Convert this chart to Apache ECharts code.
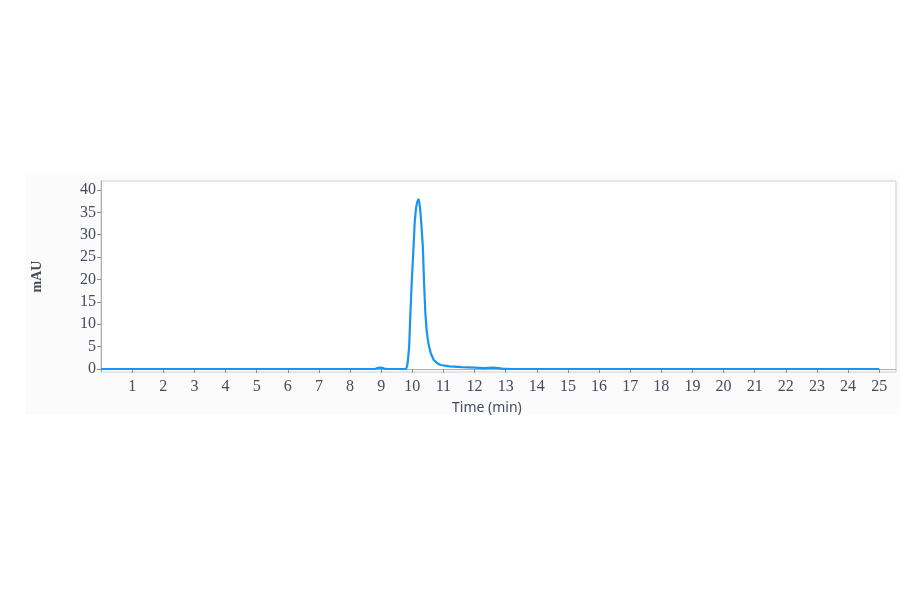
<!DOCTYPE html>
<html>
<head>
<meta charset="utf-8">
<script src="https://cdn.jsdelivr.net/npm/echarts@6/dist/echarts.min.js"></script>
<style>
  html, body { margin: 0; padding: 0; background: #fff; }
  #chart { width: 900px; height: 594px; }
</style>
</head>
<body>
<div id="chart"></div>
<script>
// chromatogram trace: time (min) and absorbance (mAU)
var times = [0, 8.8, 8.9, 9.0, 9.1, 9.2, 9.8, 9.84, 9.86, 9.9, 9.94, 9.98, 10.04, 10.08,
  10.12, 10.16, 10.2, 10.23, 10.26, 10.29, 10.34, 10.38, 10.42, 10.46, 10.5, 10.54, 10.6,
  10.69, 10.8, 10.91, 11.2, 11.6, 12.0, 12.3, 12.6, 12.9, 13.2, 25];
var mau = [0, 0, 0.25, 0.3, 0.1, 0, 0, 0.8, 2, 5, 12.5, 19, 27.3, 33,
  36, 37.3, 38, 37, 35.2, 32.5, 27.3, 19, 12.5, 8.8, 6.5, 5, 3.4,
  2, 1.3, 0.9, 0.6, 0.4, 0.3, 0.2, 0.3, 0.1, 0, 0];
var xTicks = [1, 2, 3, 4, 5, 6, 7, 8, 9, 10, 11, 12, 13, 14, 15, 16, 17, 18, 19, 20, 21, 22, 23, 24, 25];
var yTicks = [0, 5, 10, 15, 20, 25, 30, 35, 40];

var points = times.map(function (t, i) { return [t, mau[i]]; });

var chart = echarts.init(document.getElementById('chart'));
var labelColor = '#454b5c';

var option = {
  backgroundColor: '#ffffff',
  animation: false,
  graphic: [
    {
      type: 'rect',
      z: -10,
      shape: { x: 25, y: 175, width: 875, height: 240 },
      style: { fill: '#fbfbfb' }
    },
    {
      type: 'text',
      left: 452,
      top: 401,
      style: {
        text: 'Time (min)',
        font: '14px "Noto Sans"',
        fill: labelColor
      }
    }
  ],
  grid: {
    left: 101,
    right: 4,
    top: 181,
    bottom: 222,
    show: true,
    backgroundColor: '#ffffff',
    borderColor: '#c9ccd2',
    borderWidth: 1
  },
  xAxis: {
    type: 'value',
    min: 0,
    max: 25.54,
    splitLine: { show: false },
    axisLine: { show: true, lineStyle: { color: '#a9adb6' } },
    axisTick: { show: true, length: 4, customValues: xTicks, lineStyle: { color: '#8a8f99' } },
    axisLabel: {
      customValues: xTicks,
      margin: 7,
      color: labelColor,
      fontFamily: 'Liberation Serif',
      fontSize: 16
    }
  },
  yAxis: {
    type: 'value',
    min: -0.67,
    max: 42,
    name: 'mAU',
    nameLocation: 'middle',
    nameGap: 57,
    nameTextStyle: {
      color: labelColor,
      fontFamily: 'Liberation Serif',
      fontWeight: 'bold',
      fontSize: 14
    },
    splitLine: { show: false },
    axisLine: { show: true, lineStyle: { color: '#a9adb6' } },
    axisTick: { show: true, length: 4, customValues: yTicks, lineStyle: { color: '#8a8f99' } },
    axisLabel: {
      customValues: yTicks,
      margin: 5,
      color: labelColor,
      fontFamily: 'Liberation Serif',
      fontSize: 16
    }
  },
  series: [
    {
      type: 'line',
      data: points,
      showSymbol: false,
      lineStyle: { color: '#1a94f2', width: 2.2 }
    }
  ]
};

chart.setOption(option);
</script>
</body>
</html>
